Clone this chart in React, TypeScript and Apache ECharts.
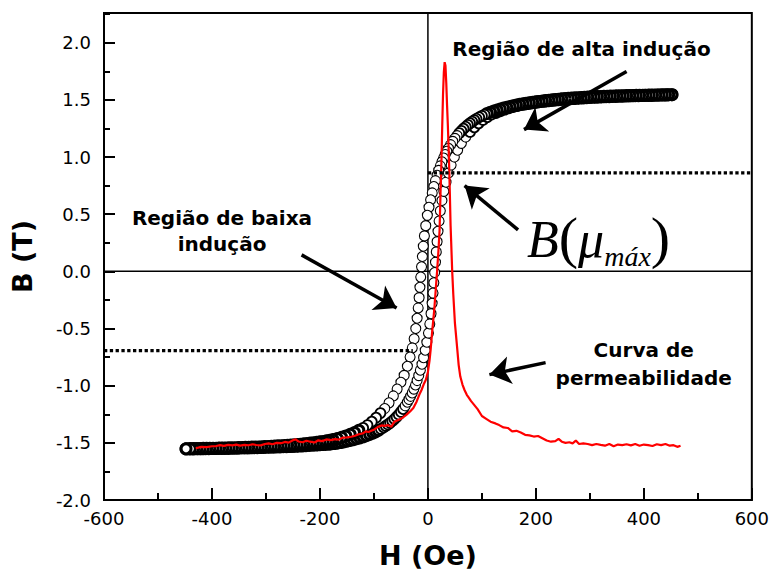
import React, { useEffect, useRef } from "react";
import * as echarts from "echarts";

// Hysteresis loop, descending branch (H in Oe, B in T)
const descendingBranch: [number, number][] = [
  [452, 1.545], [446, 1.545], [440, 1.544], [434, 1.544], [428, 1.543], [422, 1.543], [416, 1.542], [410, 1.542],
  [404, 1.541], [398, 1.541], [392, 1.54], [386, 1.539], [380, 1.538], [374, 1.538], [368, 1.537], [362, 1.536],
  [356, 1.536], [350, 1.535], [344, 1.534], [338, 1.533], [332, 1.532], [326, 1.531], [320, 1.53], [314, 1.529],
  [308, 1.528], [302, 1.527], [296, 1.525], [290, 1.523], [284, 1.521], [278, 1.519], [272, 1.517], [266, 1.515],
  [260, 1.513], [254, 1.511], [248, 1.509], [242, 1.506], [236, 1.503], [230, 1.5], [224, 1.497], [218, 1.494],
  [212, 1.49], [206, 1.486], [200, 1.482], [194, 1.478], [188, 1.474], [182, 1.47], [176, 1.466], [170, 1.461],
  [164, 1.455], [158, 1.449], [152, 1.442], [146, 1.435], [140, 1.428], [134, 1.42], [128, 1.411], [122, 1.402],
  [116, 1.392], [110, 1.381], [105, 1.371], [100, 1.36], [95, 1.348], [90, 1.335], [86, 1.323], [82, 1.31],
  [78, 1.296], [74, 1.281], [70, 1.265], [66, 1.248], [62, 1.229], [58, 1.209], [54, 1.187], [50, 1.163],
  [46, 1.137], [42, 1.108], [38, 1.076], [35, 1.05], [32, 1.022], [29, 0.991], [26, 0.958], [23, 0.922],
  [20, 0.883], [17, 0.84], [14, 0.793], [11, 0.742], [8, 0.686], [5, 0.626], [2, 0.56], [-1, 0.49],
  [-4, 0.4], [-6.5, 0.31], [-8.5, 0.22], [-10.2, 0.13], [-11.8, 0.04], [-13.3, -0.05], [-14.8, -0.14], [-16.3, -0.23],
  [-18, -0.32], [-20, -0.41], [-22.5, -0.5], [-25.5, -0.59], [-29, -0.67], [-33, -0.75], [-38, -0.83], [-44, -0.91],
  [-50, -0.97], [-57, -1.03], [-64, -1.09], [-72, -1.15], [-80, -1.2], [-88, -1.24], [-96, -1.28], [-104, -1.315],
  [-112, -1.345], [-120, -1.37], [-128, -1.39], [-136, -1.41], [-144, -1.425], [-152, -1.44], [-160, -1.452], [-168, -1.463],
  [-176, -1.472], [-182, -1.478], [-188, -1.483], [-194, -1.488], [-200, -1.492], [-206, -1.496], [-212, -1.5], [-218, -1.503],
  [-224, -1.506], [-230, -1.509], [-236, -1.512], [-242, -1.515], [-248, -1.517], [-254, -1.519], [-260, -1.521], [-266, -1.523],
  [-272, -1.525], [-278, -1.527], [-284, -1.529], [-290, -1.53], [-296, -1.532], [-302, -1.533], [-308, -1.534], [-314, -1.536],
  [-320, -1.537], [-326, -1.538], [-332, -1.539], [-338, -1.54], [-344, -1.541], [-350, -1.542], [-356, -1.543], [-362, -1.544],
  [-368, -1.544], [-374, -1.545], [-380, -1.546], [-386, -1.546], [-392, -1.547], [-398, -1.548], [-404, -1.548], [-410, -1.549],
  [-416, -1.549], [-422, -1.55], [-428, -1.55], [-434, -1.551], [-440, -1.551], [-448, -1.552],
];

// Hysteresis loop, ascending branch
const ascendingBranch: [number, number][] = [
  [-448, -1.553], [-442, -1.553], [-436, -1.553], [-430, -1.552], [-424, -1.552], [-418, -1.552], [-412, -1.551], [-406, -1.551],
  [-400, -1.55], [-394, -1.55], [-388, -1.549], [-382, -1.549], [-376, -1.548], [-370, -1.548], [-364, -1.547], [-358, -1.547],
  [-352, -1.546], [-346, -1.545], [-340, -1.545], [-334, -1.544], [-328, -1.543], [-322, -1.542], [-316, -1.542], [-310, -1.541],
  [-304, -1.54], [-298, -1.539], [-292, -1.538], [-286, -1.537], [-280, -1.536], [-274, -1.535], [-268, -1.534], [-262, -1.533],
  [-256, -1.532], [-250, -1.531], [-244, -1.53], [-238, -1.528], [-232, -1.527], [-226, -1.525], [-220, -1.523], [-214, -1.521],
  [-208, -1.519], [-202, -1.517], [-196, -1.515], [-190, -1.513], [-184, -1.511], [-180, -1.509], [-174, -1.506], [-168, -1.502],
  [-162, -1.497], [-156, -1.491], [-150, -1.485], [-144, -1.479], [-138, -1.472], [-132, -1.464], [-126, -1.456], [-120, -1.447],
  [-114, -1.437], [-108, -1.426], [-102, -1.414], [-97, -1.403], [-92, -1.391], [-87, -1.378], [-82, -1.364], [-78, -1.352],
  [-74, -1.339], [-70, -1.325], [-66, -1.309], [-62, -1.292], [-58, -1.273], [-54, -1.252], [-50, -1.229], [-46, -1.204],
  [-42, -1.176], [-38, -1.145], [-35, -1.12], [-32, -1.093], [-29, -1.063], [-26, -1.03], [-23, -0.994], [-20, -0.955],
  [-17, -0.912], [-14, -0.864], [-11, -0.812], [-8, -0.755], [-5, -0.69], [-2, -0.62], [1, -0.54], [3.5, -0.46],
  [5.8, -0.37], [7.8, -0.28], [9.5, -0.19], [11, -0.1], [12.5, -0.01], [14, 0.08], [15.5, 0.17], [17, 0.26],
  [18.7, 0.35], [20.7, 0.44], [23, 0.53], [26, 0.62], [29.5, 0.7], [33.5, 0.78], [38, 0.86], [43, 0.93],
  [49, 1.0], [55, 1.06], [62, 1.12], [70, 1.175], [78, 1.22], [86, 1.26], [94, 1.295], [102, 1.325],
  [110, 1.35], [118, 1.372], [126, 1.39], [134, 1.406], [142, 1.42], [150, 1.432], [158, 1.443], [166, 1.452],
  [174, 1.46], [180, 1.465], [186, 1.47], [192, 1.474], [198, 1.478], [204, 1.482], [210, 1.486], [216, 1.489],
  [222, 1.492], [228, 1.495], [234, 1.498], [240, 1.501], [246, 1.504], [252, 1.506], [258, 1.508], [264, 1.51],
  [270, 1.512], [276, 1.514], [282, 1.516], [288, 1.518], [294, 1.52], [300, 1.521], [306, 1.523], [312, 1.524],
  [318, 1.525], [324, 1.527], [330, 1.528], [336, 1.529], [342, 1.53], [348, 1.531], [354, 1.532], [360, 1.533],
  [366, 1.534], [372, 1.535], [378, 1.536], [384, 1.537], [390, 1.537], [396, 1.538], [402, 1.539], [408, 1.54],
  [414, 1.54], [420, 1.541], [426, 1.542], [432, 1.543], [438, 1.543], [444, 1.544], [452, 1.545],
];

// Permeability curve (red), plotted on the B scale
const permeabilityCurve: [number, number][] = [
  [-430, -1.547], [-420, -1.535], [-410, -1.538], [-400, -1.53], [-392, -1.528], [-385, -1.52], [-378, -1.526], [-370, -1.518],
  [-362, -1.522], [-355, -1.516], [-348, -1.524], [-340, -1.518], [-332, -1.521], [-325, -1.512], [-318, -1.519], [-310, -1.522],
  [-302, -1.51], [-295, -1.505], [-288, -1.512], [-280, -1.5], [-272, -1.503], [-265, -1.492], [-258, -1.498], [-250, -1.478],
  [-245, -1.47], [-240, -1.488], [-232, -1.495], [-225, -1.482], [-218, -1.49], [-210, -1.497], [-203, -1.478], [-196, -1.485],
  [-188, -1.47], [-180, -1.476], [-172, -1.468], [-165, -1.472], [-158, -1.455], [-150, -1.452], [-142, -1.447], [-135, -1.438],
  [-128, -1.425], [-121, -1.418], [-115, -1.4], [-110, -1.405], [-105, -1.395], [-100, -1.385], [-93, -1.362], [-86, -1.348],
  [-80, -1.352], [-74, -1.345], [-68, -1.36], [-62, -1.315], [-55, -1.3], [-48, -1.285], [-40, -1.255], [-33, -1.225],
  [-27, -1.195], [-21, -1.14], [-16, -1.08], [-12, -1.04], [-8, -0.99], [-4, -0.95], [0, -0.88], [3, -0.78],
  [5, -0.69], [8, -0.52], [11.7, -0.34], [14.5, -0.16], [17, 0.0], [19.5, 0.18], [21.6, 0.36], [23.4, 0.69],
  [25, 0.95], [26.5, 1.27], [28, 1.55], [29.5, 1.74], [31, 1.83], [32.5, 1.8], [34, 1.65], [35.5, 1.45],
  [37, 1.27], [39, 0.98], [40.6, 0.69], [42, 0.4], [43, 0.27], [45, 0.0], [47, -0.2], [50, -0.45],
  [54, -0.66], [57, -0.82], [60, -0.92], [64, -0.99], [68, -1.04], [72, -1.08], [75, -1.1], [80, -1.135],
  [86, -1.17], [92, -1.205], [100, -1.265], [108, -1.29], [116, -1.315], [125, -1.33], [132, -1.345], [140, -1.365],
  [148, -1.37], [156, -1.4], [164, -1.395], [172, -1.41], [180, -1.43], [188, -1.435], [196, -1.445], [204, -1.44],
  [212, -1.46], [220, -1.48], [228, -1.49], [236, -1.485], [242, -1.465], [248, -1.49], [255, -1.5], [262, -1.495],
  [268, -1.505], [274, -1.48], [280, -1.51], [288, -1.505], [296, -1.51], [304, -1.52], [312, -1.51], [320, -1.518],
  [328, -1.525], [336, -1.51], [344, -1.53], [352, -1.515], [360, -1.52], [368, -1.512], [376, -1.522], [384, -1.51],
  [392, -1.525], [400, -1.515], [408, -1.52], [416, -1.528], [424, -1.512], [432, -1.52], [440, -1.51], [448, -1.525],
  [455, -1.52], [462, -1.535], [468, -1.525],
];

const zeroLineB: [number, number][] = [[-600, 0], [600, 0]];
const zeroLineH: [number, number][] = [[0, -2], [0, 2.26]];
const bMuMaxLine: [number, number][] = [[0, 0.862], [600, 0.862]];
const lowInductionLine: [number, number][] = [[-600, -0.693], [-28, -0.693]];

const arrowLines: [number, number][][] = [
  [[368, 1.749], [178, 1.24]],
  [[167, 0.363], [68, 0.75]],
  [[-234, 0.144], [-58, -0.32]],
  [[218, -0.798], [114, -0.903]],
];

const FONT = '"DejaVu Sans", "Liberation Sans", Arial, sans-serif';
const SERIF = '"Liberation Serif", "DejaVu Serif", "Times New Roman", serif';

// the densely sampled, saturated parts of the loop read as a dark band in the picture
const loopItems = (pts: [number, number][]) =>
  pts.map(([h, b]) => ({
    value: [h, b],
    itemStyle: { borderWidth: Math.abs(b) > 1.38 ? 3 : Math.abs(b) > 1.2 ? 1.8 : 1.1 },
  }));

export default function App() {
  const ref = useRef<HTMLDivElement>(null);

  useEffect(() => {
    document.body.style.margin = "0";
    if (!ref.current) return;
    const chart = echarts.init(ref.current, undefined, { renderer: "svg" });

    const tickStyle = { color: "#000", width: 2 };
    const textBase = { fill: "#000", align: "center", verticalAlign: "middle", textAlign: "center", textVerticalAlign: "middle" };

    const option: any = {
      animation: false,
      backgroundColor: "#fff",
      grid: {
        left: 104,
        right: 20,
        top: 13,
        bottom: 76,
        show: true,
        borderColor: "#000",
        borderWidth: 2,
        backgroundColor: "transparent",
      },
      xAxis: {
        type: "value",
        min: -600,
        max: 600,
        interval: 200,
        name: "H (Oe)",
        nameLocation: "middle",
        nameGap: 42,
        nameTextStyle: { fontFamily: FONT, fontWeight: "bold", fontSize: 27, color: "#000" },
        axisLine: { show: true, onZero: false, lineStyle: { color: "#000", width: 2 } },
        axisTick: { show: true, inside: true, length: 12, lineStyle: tickStyle },
        minorTick: { show: true, splitNumber: 2, length: 7, lineStyle: tickStyle },
        splitLine: { show: false },
        axisLabel: { fontFamily: FONT, fontSize: 18, color: "#000", margin: 9 },
      },
      yAxis: [
        {
          type: "value",
          position: "left",
          min: -2,
          max: 2.26,
          interval: 0.5,
          name: "B (T)",
          nameLocation: "middle",
          nameGap: 68,
          nameRotate: 90,
          nameTextStyle: { fontFamily: FONT, fontWeight: "bold", fontSize: 27, color: "#000" },
          axisLine: { show: true, onZero: false, lineStyle: { color: "#000", width: 2 } },
          axisTick: { show: true, inside: true, length: 11, lineStyle: tickStyle },
          splitLine: { show: false },
          axisLabel: {
            fontFamily: FONT,
            fontSize: 18,
            color: "#000",
            margin: 13,
            showMaxLabel: false,
            formatter: (v: number) => (v > 2.1 ? "" : v.toFixed(1)),
          },
        },
        {
          type: "value",
          position: "left",
          min: -2,
          max: 2.26,
          interval: 0.25,
          axisLine: { show: false, onZero: false },
          axisTick: { show: true, inside: true, length: 6, lineStyle: tickStyle },
          axisLabel: { show: false },
          splitLine: { show: false },
        },
      ],
      series: [
        {
          type: "line",
          data: zeroLineB,
          symbol: "none",
          z: 1,
          silent: true,
          lineStyle: { color: "#000", width: 1.5 },
        },
        {
          type: "line",
          data: zeroLineH,
          symbol: "none",
          z: 1,
          silent: true,
          lineStyle: { color: "#000", width: 1.5 },
        },
        {
          type: "scatter",
          data: loopItems(ascendingBranch),
          symbol: "circle",
          symbolSize: 10,
          z: 2,
          silent: true,
          itemStyle: { color: "#fff", borderColor: "#000", borderWidth: 1.1, opacity: 1 },
        },
        {
          type: "scatter",
          data: loopItems(descendingBranch),
          symbol: "circle",
          symbolSize: 10,
          z: 2,
          silent: true,
          itemStyle: { color: "#fff", borderColor: "#000", borderWidth: 1.1, opacity: 1 },
        },
        {
          type: "line",
          data: permeabilityCurve,
          symbol: "none",
          z: 3,
          silent: true,
          lineStyle: { color: "#ff0000", width: 2.2 },
        },
        {
          type: "line",
          data: bMuMaxLine,
          symbol: "none",
          z: 4,
          silent: true,
          lineStyle: { color: "#000", width: 3.3, type: [3.3, 2.5] },
        },
        {
          type: "line",
          data: lowInductionLine,
          symbol: "none",
          z: 4,
          silent: true,
          lineStyle: { color: "#000", width: 3.3, type: [3.3, 2.5] },
        },
        {
          type: "lines",
          coordinateSystem: "cartesian2d",
          z: 5,
          silent: true,
          symbol: ["none", "arrow"],
          symbolSize: 21,
          lineStyle: { color: "#000", width: 3.5, curveness: 0, opacity: 1 },
          data: arrowLines.map((c) => ({ coords: c })),
        },
      ],
      graphic: [
        {
          type: "text",
          x: 581.5,
          y: 49,
          z: 10,
          style: { ...textBase, text: "Região de alta indução", font: `bold 20px ${FONT}` },
        },
        {
          type: "text",
          x: 222,
          y: 231,
          z: 10,
          style: { ...textBase, text: "Região de baixa\nindução", font: `bold 20px ${FONT}`, lineHeight: 26 },
        },
        {
          type: "text",
          x: 643.7,
          y: 364,
          z: 10,
          style: { ...textBase, text: "Curva de\npermeabilidade", font: `bold 20px ${FONT}`, lineHeight: 28 },
        },
        {
          type: "text",
          x: 527,
          y: 239.5,
          z: 10,
          style: {
            text: "{b|B}{p|(}{m|μ}{s|máx}{p|)}",
            fill: "#000",
            align: "left",
            textAlign: "left",
            verticalAlign: "middle",
            textVerticalAlign: "middle",
            rich: {
              b: { fontFamily: SERIF, fontStyle: "italic", fontSize: 52, lineHeight: 62, fill: "#000", color: "#000" },
              p: { fontFamily: SERIF, fontSize: 58, lineHeight: 56, verticalAlign: "top", fill: "#000", color: "#000" },
              m: { fontFamily: SERIF, fontStyle: "italic", fontSize: 52, lineHeight: 62, fill: "#000", color: "#000" },
              s: { fontFamily: SERIF, fontStyle: "italic", fontSize: 28, lineHeight: 36, verticalAlign: "bottom", fill: "#000", color: "#000" },
            },
          },
        },
      ],
    };

    chart.setOption(option);
    return () => chart.dispose();
  }, []);

  return <div ref={ref} style={{ width: 772, height: 576 }} />;
}
